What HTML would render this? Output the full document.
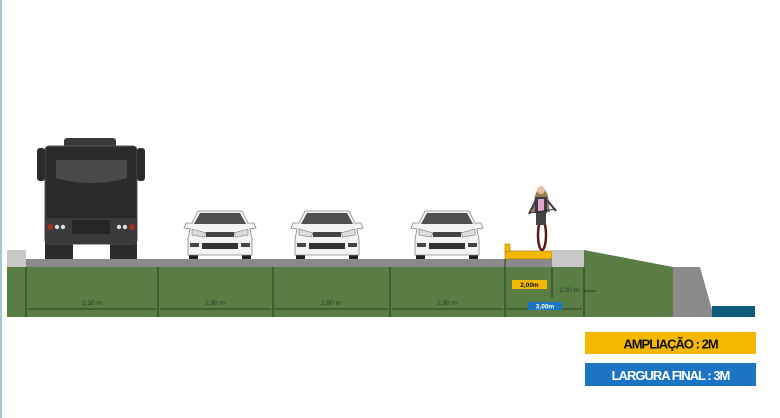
<!DOCTYPE html>
<html><head><meta charset="utf-8"><style>
html,body{margin:0;padding:0;background:#fff;}
svg{display:block;}
</style></head><body>
<svg width="780" height="418" viewBox="0 0 780 418" xmlns="http://www.w3.org/2000/svg" font-family="Liberation Sans, sans-serif">
<defs>
<g id="car">
  <rect x="5" y="45" width="9" height="5" fill="#222"/>
  <rect x="58" y="45" width="9" height="5" fill="#222"/>
  <path d="M14,2 L58,2 L64,14 L70,14 L72,19 L66,20 L68,30 L68,46 L4,46 L4,30 L6,20 L0,19 L2,14 L8,14 Z" fill="#f4f4f4" stroke="#888" stroke-width="0.8"/>
  <path d="M16,4 L56,4 L62,15 L10,15 Z" fill="#505050"/>
  <path d="M8,20 L22,24 L20,28 L8,26 Z" fill="#ddd" stroke="#777" stroke-width="0.6"/>
  <path d="M64,20 L50,24 L52,28 L64,26 Z" fill="#ddd" stroke="#777" stroke-width="0.6"/>
  <rect x="22" y="23" width="28" height="5" fill="#444"/>
  <rect x="18" y="34" width="36" height="6" fill="#333"/>
  <rect x="6" y="34" width="9" height="4" fill="#444"/>
  <rect x="57" y="34" width="9" height="4" fill="#444"/>
</g>
</defs>
<rect x="0" y="0" width="2" height="418" fill="#a8c8d0"/>

<polygon points="7,267 584,267 584,250 673,267 673,317 7,317" fill="#5a7d43"/>
<rect x="7" y="250" width="19" height="17" fill="#c8c8c8"/>
<rect x="26" y="259" width="526" height="8" fill="#8a8a8a"/>
<rect x="505" y="251" width="47" height="8" fill="#f5b800" stroke="#a07800" stroke-width="0.6"/>
<rect x="505" y="244" width="5" height="8" fill="#f5b800" stroke="#a07800" stroke-width="0.6"/>
<rect x="552" y="250" width="32" height="17" fill="#c8c8c8"/>
<polygon points="673,267 700,267 714,317 673,317" fill="#8a8a8a"/>
<rect x="712" y="306" width="43" height="11" fill="#0e5a7a"/>

<g stroke="#1a2a14" stroke-width="0.8">
  <line x1="26" y1="267" x2="26" y2="317"/>
  <line x1="158" y1="267" x2="158" y2="317"/>
  <line x1="273" y1="267" x2="273" y2="317"/>
  <line x1="390" y1="267" x2="390" y2="317"/>
  <line x1="505" y1="259" x2="505" y2="317"/>
  <line x1="552" y1="267" x2="552" y2="298"/>
  <line x1="584" y1="267" x2="584" y2="317"/>
  <line x1="28" y1="309" x2="156" y2="309"/>
  <line x1="160" y1="309" x2="271" y2="309"/>
  <line x1="275" y1="309" x2="388" y2="309"/>
  <line x1="392" y1="309" x2="503" y2="309"/>
  <line x1="507" y1="309" x2="582" y2="309"/>
  <line x1="584" y1="291" x2="596" y2="291"/>
</g>
<g fill="#2a3a24" font-size="6.5" text-anchor="middle">
  <text x="92" y="305">3,30 m</text>
  <text x="215" y="305">2,90 m</text>
  <text x="331" y="305">2,90 m</text>
  <text x="447" y="305">2,90 m</text>
  <text x="569" y="292">1,00 m</text>
</g>
<rect x="512" y="280" width="35" height="9" fill="#f5b800"/>
<text x="529.5" y="287" font-size="6.5" font-weight="bold" text-anchor="middle" fill="#111">2,00m</text>
<rect x="528" y="302" width="34" height="8" fill="#1b75c4"/>
<text x="545" y="308.5" font-size="6.5" font-weight="bold" text-anchor="middle" fill="#fff">3,00m</text>

<!-- bus -->
<rect x="45" y="240" width="28" height="19" fill="#2a2a2a"/>
<rect x="110" y="240" width="27" height="19" fill="#2a2a2a"/>
<rect x="64" y="138" width="52" height="12" rx="3" fill="#3a3a3a"/>
<rect x="45" y="146" width="92" height="98" rx="4" fill="#2b2b2b" stroke="#555" stroke-width="1"/>
<rect x="37" y="148" width="8" height="33" rx="3" fill="#2a2a2a"/>
<rect x="137" y="148" width="8" height="33" rx="3" fill="#2a2a2a"/>
<path d="M56,160 L127,160 L127,178 Q91,188 56,178 Z" fill="#4a4a4a"/>
<rect x="45" y="218" width="92" height="26" fill="#3a3a3a"/>
<rect x="72" y="220" width="38" height="14" fill="#262626"/>
<circle cx="50" cy="227" r="3" fill="#a03020"/>
<circle cx="57" cy="227" r="2.2" fill="#ddd"/>
<circle cx="63" cy="227" r="2.2" fill="#ddd"/>
<circle cx="132" cy="227" r="3" fill="#a03020"/>
<circle cx="125" cy="227" r="2.2" fill="#ddd"/>
<circle cx="119" cy="227" r="2.2" fill="#ddd"/>

<use href="#car" x="184" y="209"/>
<use href="#car" x="291" y="209"/>
<use href="#car" x="411" y="209"/>

<!-- cyclist -->
<ellipse cx="542" cy="235" rx="4" ry="15" fill="none" stroke="#5a1a1a" stroke-width="2.5"/>
<path d="M535,196 Q541,178 548,196 L550,212 L532,212 Z" fill="#9a7a50"/>
<rect x="535" y="197" width="12" height="16" fill="#3a3a4a"/>
<rect x="538" y="199" width="6" height="12" fill="#e0a8c8"/>
<rect x="536" y="213" width="10" height="12" fill="#444"/>
<line x1="529" y1="214" x2="536" y2="200" stroke="#3a3a4a" stroke-width="2"/>
<line x1="556" y1="211" x2="547" y2="200" stroke="#3a3a4a" stroke-width="2"/>
<line x1="529" y1="213" x2="556" y2="209" stroke="#333" stroke-width="1"/>
<circle cx="541" cy="190" r="4" fill="#e8c0a0"/>

<rect x="585" y="332" width="171" height="22" fill="#f5b800"/>
<text x="670.5" y="348.5" font-size="13" font-weight="bold" text-anchor="middle" fill="#111" letter-spacing="-1">AMPLIAÇÃO : 2M</text>
<rect x="585" y="363" width="171" height="23" fill="#1b75c4"/>
<text x="670.5" y="380" font-size="13" font-weight="bold" text-anchor="middle" fill="#fff" letter-spacing="-1">LARGURA FINAL : 3M</text>
</svg>
</body></html>
